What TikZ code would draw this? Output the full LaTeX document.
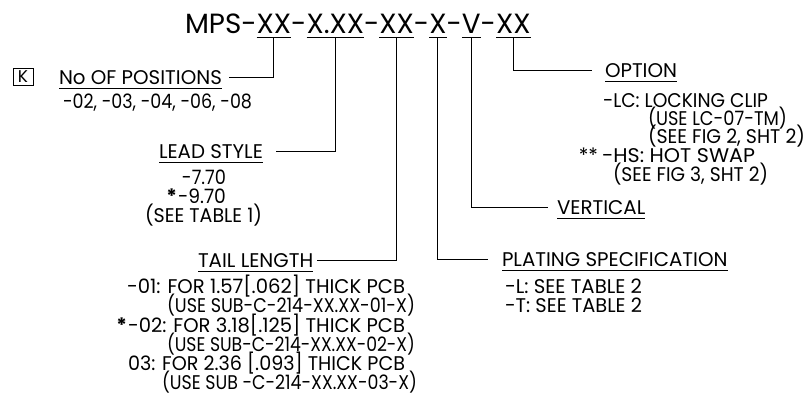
\documentclass[tikz,border=0pt]{standalone}
\usepackage{fontspec}
\usepackage{graphicx}
\setmainfont{Poppins}
\usetikzlibrary{calc}
\tikzset{
  txt/.style={inner sep=0pt, outer sep=0pt, anchor=base west, font=\fontsize{19.8}{19.8}\selectfont},
  ttl/.style={inner sep=0pt, outer sep=0pt, anchor=base west, font=\fontsize{27.8}{27.8}\selectfont},
  conn/.style={draw=black, line width=0.9pt},
  uline/.style={draw=black, line width=0.9pt},
}
\newcommand{\ul}[1]{\draw[uline] ([yshift=-4.5pt]#1.base west) -- ([yshift=-4.5pt]#1.base east);}
\newcommand{\fw}[2]{\resizebox{#1pt}{\height}{#2}}
\begin{document}
\begin{tikzpicture}[x=1pt,y=-1pt]
\useasboundingbox[fill=white] (0,0) rectangle (808,397);
% title
\node[ttl] (t0) at (185,33) {MPS-};
\node[ttl] (g1) at (t0.base east) {XX};
\node[ttl] (d1) at (g1.base east) {-};
\node[ttl] (g2) at (d1.base east) {X.XX};
\node[ttl] (d2) at (g2.base east) {-};
\node[ttl] (g3) at (d2.base east) {XX};
\node[ttl] (d3) at (g3.base east) {-};
\node[ttl] (g4) at (d3.base east) {X};
\node[ttl] (d4) at (g4.base east) {-};
\node[ttl] (g5) at (d4.base east) {V};
\node[ttl] (d5) at (g5.base east) {-};
\node[ttl] (g6) at (d5.base east) {XX};
\ul{g1}\ul{g2}\ul{g3}\ul{g4}\ul{g5}\ul{g6}
% K box
\node[draw, line width=0.8pt, minimum width=20pt, minimum height=17pt, inner sep=0pt, font=\fontsize{17}{17}\selectfont] (kbox) at (23,76.5) {K};
% No of positions
\node[txt] (npos) at (59,84) {No OF POSITIONS};
\ul{npos}
\node[txt] (nposv) at (63,108) {\fw{189}{-02, -03, -04, -06, -08}};
% lead style
\node[txt] (lead) at (159,158) {LEAD STYLE};
\ul{lead}
\node[txt, anchor=base east] (lead1) at (226,184) {\fw{44}{-7.70}};
\node[txt, anchor=base east] (lead2) at (226,203) {\fw{48}{-9.70}};
\node[txt, anchor=base east] (lead2s) at ([xshift=-1pt]lead2.base west) {\textbf{*}};
\node[txt] (lead3) at (145,222) {\fw{117}{(SEE TABLE 1)}};
% tail length
\node[txt] (tail) at (198,267) {TAIL LENGTH};
\ul{tail}
\node[txt] (tail1) at (127,293) {\fw{278}{-01: FOR 1.57[.062] THICK PCB}};
\node[txt] (tail2) at (167,312) {\fw{248}{(USE SUB-C-214-XX.XX-01-X)}};
\node[txt] (tail3) at (128,332) {\fw{277}{-02: FOR 3.18[.125] THICK PCB}};
\node[txt, anchor=base east] (tail3s) at ([xshift=-1pt]tail3.base west) {\textbf{*}};
\node[txt] (tail4) at (167,351) {\fw{248}{(USE SUB-C-214-XX.XX-02-X)}};
\node[txt] (tail5) at (128,370) {\fw{277}{03: FOR 2.36 [.093] THICK PCB}};
\node[txt] (tail6) at (162,389) {\fw{255}{(USE SUB -C-214-XX.XX-03-X)}};
% plating
\node[txt] (plat) at (502,266) {PLATING SPECIFICATION};
\ul{plat}
\node[txt] (plat1) at (505,293) {\fw{137}{-L: SEE TABLE 2}};
\node[txt] (plat2) at (505,312) {\fw{137}{-T: SEE TABLE 2}};
% vertical
\node[txt] (vert) at (557,214) {VERTICAL};
\ul{vert}
% option
\node[txt] (opt) at (605,77) {OPTION};
\ul{opt}
\node[txt] (opt1) at (603,107) {\fw{165}{-LC: LOCKING CLIP}};
\node[txt] (opt2) at (648,125) {\fw{139}{(USE LC-07-TM)}};
\node[txt] (opt3) at (648,143) {\fw{157}{(SEE FIG 2, SHT 2)}};
\node[txt] (opt4) at (602,162) {\fw{153}{-HS: HOT SWAP}};
\node[txt, anchor=base east] (opt4s) at ([xshift=-4pt]opt4.base west) {**};
\node[txt] (opt5) at (613,181) {\fw{155}{(SEE FIG 3, SHT 2)}};
% connectors
\draw[conn] ([yshift=-4.5pt]g1.base) |- ([xshift=7pt]npos.east);
\draw[conn] ([yshift=-4.5pt]g2.base) |- ([xshift=13pt]lead.east);
\draw[conn] ([yshift=-4.5pt]g3.base) |- ([xshift=4pt]tail.east);
\draw[conn] ([yshift=-4.5pt]g4.base) |- ([xshift=-14pt]plat.west);
\draw[conn] ([yshift=-4.5pt]g5.base) |- ([xshift=-9pt]vert.west);
\draw[conn] ([yshift=-4.5pt]g6.base) |- ([xshift=-13pt]opt.west);
\end{tikzpicture}
\end{document}
